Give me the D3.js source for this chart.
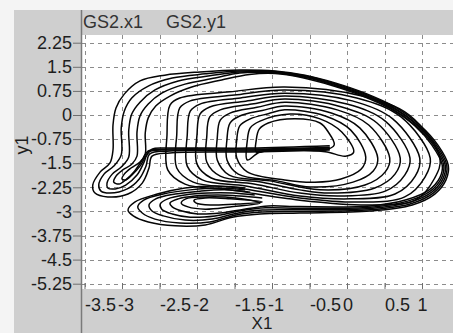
<!DOCTYPE html>
<html>
<head>
<meta charset="utf-8">
<script src="https://cdn.jsdelivr.net/npm/d3@7"></script>
<style>
body { margin: 0; background: #fff; }
text { font-family: "Liberation Sans", Arial, sans-serif; }
</style>
</head>
<body>
<div id="chart"></div>
<script>
var xTicks = [-3.5, -3, -2.5, -2, -1.5, -1, -0.5, 0, 0.5, 1];
var yTicks = [2.25, 1.5, 0.75, 0, -0.75, -1.5, -2.25, -3, -3.75, -4.5, -5.25];
var seriesNames = ["GS2.x1", "GS2.y1"];

// outer loops: thick line -> left lobe -> left stroke -> top arc -> right arc -> band -> lower lobe
var outerLoop1 = [[-0.23,-1.09],[-1.29,-1.15],[-2.36,-1.18],[-2.60,-1.28],[-2.64,-1.65],[-2.73,-2.12],[-2.92,-2.46],[-3.19,-2.55],[-3.36,-2.43],[-3.39,-2.18],[-3.29,-1.77],[-3.16,-1.49],[-3.12,-1.09],[-3.12,-0.31],[-3.08,0.22],[-2.97,0.65],[-2.76,1.06],[-2.43,1.24],[-1.96,1.34],
    [-1.43,1.40],[-0.96,1.37],[-0.56,1.24],[-0.16,1.00],[0.24,0.68],[0.64,0.25],[0.97,-0.31],[1.21,-0.93],[1.35,-1.56],[1.32,-2.02],[1.17,-2.46],[0.87,-2.80],[0.31,-2.99],[-0.63,-3.05],
    [-1.16,-3.08],[-1.53,-3.18],[-1.89,-3.42],[-2.29,-3.45],[-2.65,-3.33],[-2.85,-3.14],[-2.92,-2.96],[-2.83,-2.71],[-2.53,-2.46],[-2.16,-2.27],[-1.76,-2.21],[-1.36,-2.27]];
var outerLoop2 = [[-0.23,-1.06],[-1.29,-1.12],[-2.36,-1.12],[-2.63,-1.21],[-2.68,-1.59],[-2.77,-1.99],[-2.93,-2.30],[-3.16,-2.43],[-3.28,-2.37],[-3.31,-2.18],[-3.24,-1.84],[-3.11,-1.59],[-3.01,-1.24],[-3.01,-0.40],[-2.97,0.12],[-2.87,0.53],[-2.65,0.90],[-2.33,1.15],[-1.89,1.28],
    [-1.43,1.37],[-0.96,1.35],[-0.56,1.22],[-0.17,0.98],[0.23,0.66],[0.62,0.24],[0.95,-0.32],[1.19,-0.93],[1.33,-1.56],[1.30,-2.00],[1.15,-2.43],[0.85,-2.76],[0.31,-2.95],[-0.63,-3.00],
    [-1.13,-3.02],[-1.48,-3.11],[-1.83,-3.33],[-2.23,-3.36],[-2.56,-3.24],[-2.73,-3.05],[-2.79,-2.86],[-2.71,-2.65],[-2.45,-2.46],[-2.09,-2.33],[-1.72,-2.27],[-1.36,-2.33]];
var outerLoop3 = [[-0.23,-1.03],[-1.29,-1.09],[-2.36,-1.09],[-2.64,-1.15],[-2.71,-1.49],[-2.80,-1.87],[-2.95,-2.18],[-3.09,-2.30],[-3.19,-2.27],[-3.20,-2.12],[-3.13,-1.84],[-3.01,-1.62],[-2.91,-1.31],[-2.91,-0.47],[-2.87,0.03],[-2.76,0.40],[-2.56,0.78],[-2.25,1.06],[-1.83,1.22],
    [-1.43,1.34],[-0.96,1.33],[-0.57,1.20],[-0.18,0.96],[0.22,0.64],[0.61,0.22],[0.94,-0.33],[1.17,-0.93],[1.31,-1.56],[1.28,-1.98],[1.13,-2.40],[0.83,-2.72],[0.31,-2.91],[-0.63,-2.95],
    [-1.13,-2.96],[-1.45,-3.05],[-1.80,-3.24],[-2.16,-3.27],[-2.45,-3.14],[-2.60,-2.99],[-2.64,-2.80],[-2.55,-2.61],[-2.29,-2.46],[-1.96,-2.37],[-1.63,-2.33],[-1.29,-2.40]];
var outerLoop4 = [[-0.23,-1.00],[-1.29,-1.06],[-2.36,-1.06],[-2.65,-1.12],[-2.73,-1.40],[-2.83,-1.74],[-2.95,-2.02],[-3.04,-2.15],[-3.11,-2.09],[-3.08,-1.90],[-2.99,-1.71],[-2.87,-1.53],[-2.80,-1.28],[-2.80,-0.53],[-2.76,-0.03],[-2.65,0.34],[-2.47,0.68],[-2.16,0.96],[-1.76,1.15],
    [-1.43,1.31],[-0.96,1.31],[-0.58,1.18],[-0.19,0.94],[0.21,0.62],[0.60,0.20],[0.92,-0.34],[1.15,-0.93],[1.29,-1.56],[1.26,-1.96],[1.11,-2.37],[0.81,-2.68],[0.31,-2.87],[-0.63,-2.90],
    [-1.09,-2.89],[-1.43,-2.99],[-1.76,-3.14],[-2.09,-3.18],[-2.33,-3.08],[-2.47,-2.93],[-2.49,-2.77],[-2.39,-2.61],[-2.16,-2.49],[-1.85,-2.43],[-1.53,-2.43],[-1.23,-2.49]];
var outerLoop5 = [[-0.23,-0.96],[-1.29,-1.03],[-2.36,-1.03],[-2.60,-1.06],[-2.68,-1.28],[-2.76,-1.59],[-2.87,-1.87],[-2.95,-2.02],[-3.00,-1.99],[-2.97,-1.84],[-2.88,-1.65],[-2.76,-1.46],[-2.69,-1.21],[-2.69,-0.56],[-2.65,-0.09],[-2.55,0.28],[-2.36,0.59],[-2.07,0.87],[-1.67,1.09],
    [-1.30,1.26],[-0.96,1.29],[-0.59,1.16],[-0.20,0.92],[0.20,0.60],[0.59,0.18],[0.91,-0.35],[1.13,-0.93],[1.27,-1.56],[1.24,-1.94],[1.09,-2.34],[0.79,-2.64],[0.31,-2.83],[-0.63,-2.85],
    [-1.05,-2.83],[-1.37,-2.93],[-1.69,-3.05],[-1.99,-3.08],[-2.20,-2.99],[-2.33,-2.86],[-2.36,-2.74],[-2.25,-2.61],[-2.03,-2.52],[-1.72,-2.49],[-1.43,-2.52],[-1.13,-2.58]];

// inner spiral loops (closed), outermost first
var spiralLoop1 = [[-2.39,-1.71],[-2.40,-0.62],[-2.36,0.31],[-2.23,0.53],[-1.56,0.72],[-0.83,0.87],[0.20,0.59],[0.83,0.00],[1.24,-1.34],[1.17,-1.96],[0.91,-2.65],[0.31,-2.80],[-0.63,-2.65],[-1.56,-2.33],[-2.16,-2.15]];
var spiralLoop2 = [[-2.27,-1.65],[-2.27,-0.62],[-2.23,0.22],[-2.09,0.44],[-1.50,0.62],[-0.83,0.78],[0.13,0.53],[0.72,-0.06],[1.11,-1.34],[1.04,-1.93],[0.77,-2.55],[0.17,-2.71],[-0.63,-2.58],[-1.45,-2.27],[-2.05,-2.09]];
var spiralLoop3 = [[-2.13,-1.59],[-2.13,-0.62],[-2.09,0.12],[-1.96,0.34],[-1.42,0.53],[-0.83,0.68],[0.07,0.44],[0.61,-0.12],[0.97,-1.34],[0.91,-1.90],[0.64,-2.46],[0.04,-2.61],[-0.63,-2.52],[-1.35,-2.21],[-1.93,-2.02]];
var spiralLoop4 = [[-2.00,-1.53],[-2.00,-0.62],[-1.96,0.03],[-1.83,0.25],[-1.35,0.43],[-0.83,0.59],[0.00,0.34],[0.51,-0.19],[0.84,-1.34],[0.77,-1.87],[0.51,-2.37],[-0.09,-2.52],[-0.63,-2.43],[-1.24,-2.15],[-1.81,-1.96]];
var spiralLoop5 = [[-1.87,-1.46],[-1.87,-0.68],[-1.83,-0.06],[-1.69,0.16],[-1.27,0.34],[-0.83,0.50],[-0.07,0.25],[0.40,-0.25],[0.71,-1.34],[0.64,-1.84],[0.37,-2.27],[-0.23,-2.43],[-0.63,-2.33],[-1.13,-2.09],[-1.69,-1.90]];
var spiralLoop6 = [[-1.73,-1.40],[-1.73,-0.72],[-1.69,-0.16],[-1.56,0.06],[-1.20,0.24],[-0.83,0.40],[-0.13,0.16],[0.29,-0.31],[0.57,-1.34],[0.51,-1.77],[0.24,-2.18],[-0.36,-2.33],[-1.03,-2.05],[-1.57,-1.87]];
var spiralLoop7 = [[-1.60,-1.40],[-1.60,-0.75],[-1.56,-0.25],[-1.43,-0.03],[-1.13,0.14],[-0.83,0.28],[-0.21,0.06],[0.17,-0.40],[0.41,-1.34],[0.35,-1.74],[0.08,-2.09],[-0.49,-2.24],[-0.93,-2.05],[-1.45,-1.84]];
var spiralLoop8 = [[-1.47,-1.34],[-1.47,-0.78],[-1.43,-0.34],[-1.29,-0.12],[-1.05,0.04],[-0.83,0.16],[-0.29,-0.03],[0.05,-0.47],[0.25,-1.31],[0.19,-1.68],[-0.08,-1.99],[-0.43,-2.09],[-0.83,-2.02],[-1.33,-1.77]];
var spiralLoop9 = [[-1.33,-1.40],[-1.33,-0.81],[-1.29,-0.40],[-1.16,-0.19],[-0.76,0.03],[-0.36,-0.12],[-0.07,-0.53],[0.09,-1.15],[-0.02,-1.28],[-0.29,-1.14],[-0.76,-1.09],[-1.16,-1.15]];
var spiralLoop10 = [[-1.21,-1.15],[-1.21,-0.78],[-1.17,-0.44],[-1.05,-0.25],[-0.69,-0.12],[-0.36,-0.25],[-0.25,-0.53],[-0.17,-0.93],[-0.29,-1.09],[-0.63,-1.09],[-1.03,-1.09]];

// small loops inside the lower lobe
var lobeLoop1 = [[-1.16,-2.74],[-1.56,-2.86],[-1.89,-2.93],[-2.12,-2.86],[-2.21,-2.74],[-2.15,-2.61],[-1.89,-2.55],[-1.49,-2.58]];
var lobeLoop2 = [[-1.13,-2.71],[-1.45,-2.77],[-1.80,-2.80],[-2.01,-2.74],[-2.04,-2.65],[-1.89,-2.58],[-1.56,-2.61]];

var openPaths = [outerLoop1, outerLoop2, outerLoop3, outerLoop4, outerLoop5];
var closedPaths = [spiralLoop1, spiralLoop2, spiralLoop3, spiralLoop4, spiralLoop5, spiralLoop6,
    spiralLoop7, spiralLoop8, spiralLoop9, spiralLoop10, lobeLoop1, lobeLoop2];

var w = 453;
var h = 333;
var plotLeft = 82;
var plotTop = 35;
var plotBottom = 289;
var axisX = 81;

var svg = d3.select("#chart").append("svg").attr("width", w).attr("height", h);

//grey panel and white plot area
svg.append("rect").attr("x", 0).attr("y", 0).attr("width", w).attr("height", h).attr("fill", "#f4f4f4");
svg.append("rect").attr("x", 14).attr("y", 10).attr("width", w - 14).attr("height", h - 10).attr("fill", "#cfcfcf");
svg.append("rect").attr("x", plotLeft).attr("y", plotTop).attr("width", w - plotLeft).attr("height", plotBottom - plotTop).attr("fill", "#fff");

var xScale = d3.scaleLinear().domain([-3.5, 1.5]).range([84.5, 459.5]);
var yScale = d3.scaleLinear().domain([2.25, -5.25]).range([42.7, 283.7]);

// grid
var grid = svg.append("g").attr("stroke", "#8c8c8c").attr("stroke-width", 1).attr("stroke-dasharray", "4,4");
grid.selectAll("line.v").data(xTicks).enter().append("line")
    .attr("x1", function (d) { return Math.round(xScale(d)) + 0.5; })
    .attr("x2", function (d) { return Math.round(xScale(d)) + 0.5; })
    .attr("y1", plotTop).attr("y2", plotBottom);
grid.selectAll("line.h").data(yTicks).enter().append("line")
    .attr("y1", function (d) { return Math.round(yScale(d)) + 0.5; })
    .attr("y2", function (d) { return Math.round(yScale(d)) + 0.5; })
    .attr("x1", plotLeft).attr("x2", w);

// curves
svg.append("clipPath").attr("id", "plotClip").append("rect")
    .attr("x", plotLeft).attr("y", plotTop).attr("width", w - plotLeft).attr("height", plotBottom - plotTop);

var lineOpen = d3.line()
    .x(function (d) { return xScale(d[0]); })
    .y(function (d) { return yScale(d[1]); })
    .curve(d3.curveCatmullRom.alpha(0.5));
var lineClosed = d3.line()
    .x(function (d) { return xScale(d[0]); })
    .y(function (d) { return yScale(d[1]); })
    .curve(d3.curveCatmullRomClosed.alpha(0.5));

var curves = svg.append("g").attr("clip-path", "url(#plotClip)")
    .attr("fill", "none").attr("stroke", "#050505").attr("stroke-width", 1.5);
curves.selectAll("path.c").data(closedPaths).enter().append("path").attr("d", lineClosed);
curves.selectAll("path.o").data(openPaths).enter().append("path").attr("d", lineOpen);

// y axis
var yAxis = d3.axisLeft(yScale).tickValues(yTicks).tickSize(8).tickPadding(1)
    .tickFormat(function (d) { return String(d); });
var yAxisG = svg.append("g").attr("transform", "translate(" + axisX + ",0)").call(yAxis);
yAxisG.select(".domain").remove();
yAxisG.selectAll("line").attr("stroke", "#6e6e6e");
yAxisG.selectAll("text").attr("font-size", "18px").attr("fill", "#1e1e1e")
    .attr("font-family", "Liberation Sans, Arial, sans-serif");

// x axis
var xAxis = d3.axisBottom(xScale).tickValues(xTicks).tickSize(-6).tickPadding(9)
    .tickFormat(function (d) { return String(d); });
var xAxisG = svg.append("g").attr("transform", "translate(0," + plotBottom + ")").call(xAxis);
xAxisG.select(".domain").remove();
xAxisG.selectAll("line").attr("stroke", "#6e6e6e");
xAxisG.selectAll("text").attr("font-size", "18px").attr("fill", "#1e1e1e")
    .attr("font-family", "Liberation Sans, Arial, sans-serif");

//labels crowd: half steps start at the tick, others centred, pushed right when they collide
var prevRight = -Infinity;
xAxisG.selectAll(".tick").each(function (d) {
    var t = d3.select(this).select("text");
    var half = Math.abs(d % 1) > 0;
    t.attr("text-anchor", half ? "start" : "middle");
    var len = t.node().getComputedTextLength();
    var left = half ? 0 : -len / 2;
    var absLeft = xScale(d) + left;
    if (absLeft < prevRight + 2) {
        t.attr("dx", prevRight + 2 - absLeft);
        absLeft = prevRight + 2;
    }
    prevRight = absLeft + len;
});

// axis line through header to bottom
svg.append("line").attr("x1", axisX + 0.5).attr("x2", axisX + 0.5).attr("y1", 10).attr("y2", h)
    .attr("stroke", "#7a7a7a").attr("stroke-width", 1.5);

// header
svg.selectAll("text.series").data(seriesNames).enter().append("text")
    .attr("x", function (d, i) { return i === 0 ? 83 : 166; })
    .attr("y", 28)
    .attr("font-size", "18px").attr("fill", "#333")
    .text(function (d) { return d; });

// axis titles
svg.append("text").attr("x", 262).attr("y", 329).attr("text-anchor", "middle")
    .attr("font-size", "17px").attr("fill", "#1e1e1e").text("X1");
svg.append("text").attr("transform", "translate(28,145) rotate(-90)").attr("text-anchor", "middle")
    .attr("font-size", "18px").attr("fill", "#1e1e1e").text("y1");
</script>
</body>
</html>
